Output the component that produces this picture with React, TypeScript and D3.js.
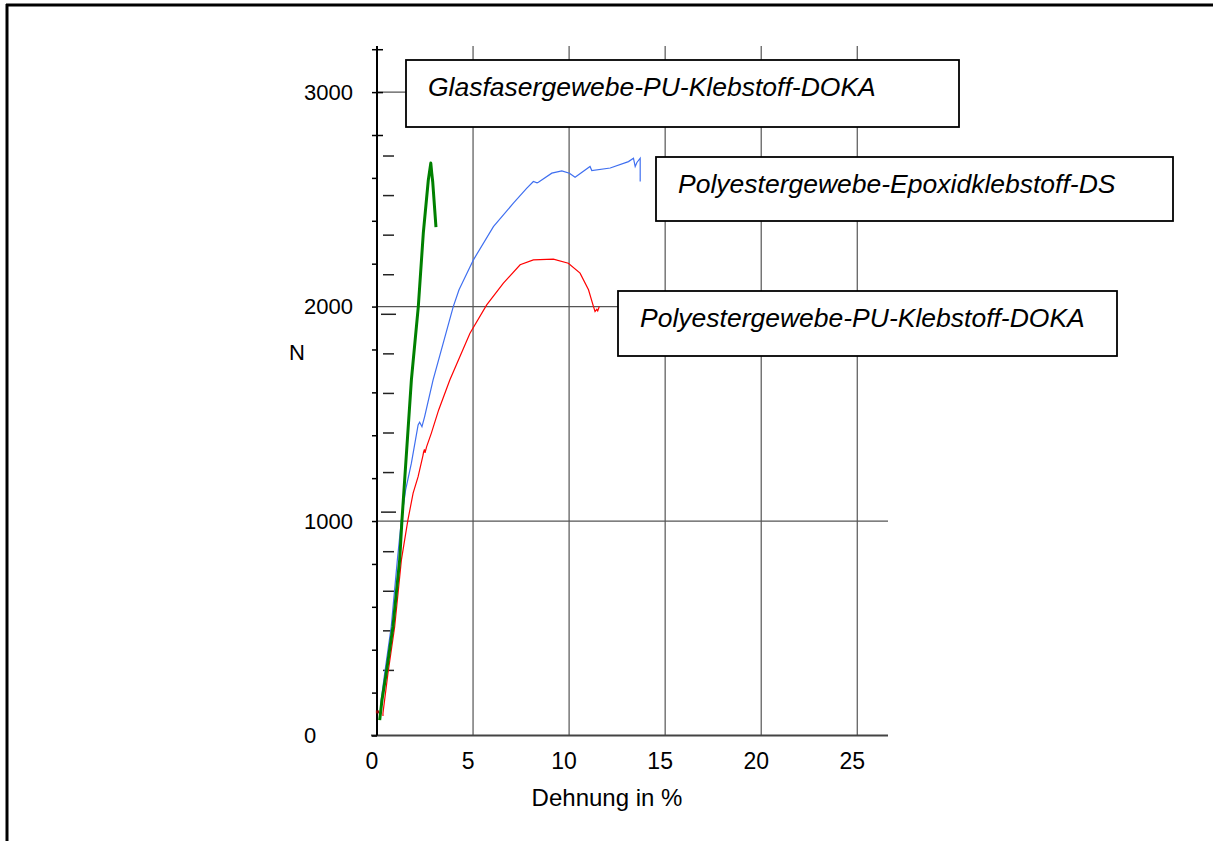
import React, { useRef, useEffect } from 'react'
import * as d3 from 'd3'

// Dehnung in % / Kraft in N
const glasPU: [number, number][] = [
  [0.14, 72], [0.26, 166], [0.48, 290], [0.83, 507], [1.18, 819], [1.3, 1005],
  [1.79, 1658], [2.15, 2000], [2.41, 2342], [2.67, 2589], [2.8, 2669],
  [2.85, 2622], [2.9, 2582], [3.07, 2370]
]

const polyEpoxid: [number, number][] = [
  [0.19, 134], [0.22, 166], [0.4, 290], [0.74, 507], [1.06, 819], [1.27, 1005],
  [1.49, 1145], [1.79, 1270], [2.14, 1448], [2.22, 1461], [2.34, 1440], [2.48, 1487],
  [2.92, 1658], [3.97, 2000], [4.27, 2078], [5.02, 2218], [6.06, 2373], [7.1, 2482],
  [7.8, 2552], [8.14, 2583], [8.33, 2577], [8.4, 2580], [9.1, 2622], [9.62, 2633],
  [10.02, 2622], [10.31, 2603], [11.09, 2653], [11.18, 2634], [12.14, 2646],
  [13.09, 2676], [13.35, 2692], [13.44, 2653], [13.53, 2672], [13.7, 2692], [13.7, 2583]
]

const polyPU: [number, number][] = [
  [0.31, 91], [0.31, 104], [0.57, 290], [0.92, 507], [1.27, 819], [1.61, 1005],
  [1.88, 1130], [2.14, 1207], [2.4, 1308], [2.42, 1320], [2.47, 1334], [2.5, 1318],
  [2.58, 1346], [2.83, 1410], [3.21, 1518], [3.79, 1658], [4.84, 1876], [5.71, 2008],
  [6.58, 2109], [7.45, 2195], [8.14, 2218], [9.18, 2221], [9.96, 2202], [10.57, 2156],
  [11.01, 2078], [11.27, 2000], [11.35, 1977], [11.44, 1987], [11.49, 1980], [11.57, 2000]
]

const startMark: [number, number][] = [[0.02, 110]]

const xTicks = [0, 5, 10, 15, 20, 25]
const xGrid = [5, 10, 15, 20, 25]
const yLabels = [0, 1000, 2000, 3000]
const yGrid = [1000, 2000, 3000]
const yTicks = [0, 200, 400, 600, 800, 1000, 1200, 1400, 1600, 1800, 2000, 2200, 2400, 2600, 2800, 3000, 3200]
// second (unlabelled) scale drawn next to the axis
const sideTicks = [1, 2, 3, 4, 5, 6, 7, 8, 9, 10, 11, 12, 13, 14]
const sideLong = [5, 10]

const seriesNames = [
  'Glasfasergewebe-PU-Klebstoff-DOKA',
  'Polyestergewebe-Epoxidklebstoff-DS',
  'Polyestergewebe-PU-Klebstoff-DOKA'
]

const font = '"Liberation Sans", Arial, sans-serif'

export default function App() {
  const ref = useRef<SVGSVGElement>(null)
  const layout = { width: 1213, height: 841, left: 377, right: 888, top: 46, bottom: 735.5 }

  useEffect(() => {
    const svg = d3.select(ref.current)
    svg.selectAll('*').remove()

    const x = d3.scaleLinear().domain([0, 26.6]).range([layout.left, layout.right])
    const y = d3.scaleLinear().domain([0, 3215]).range([layout.bottom, layout.top])
    const side = d3.scaleLinear().domain([0, 14]).range([y(119), y(2702)])

    // outer frame
    svg.append('line').attr('x1', 6).attr('x2', 1213).attr('y1', 5).attr('y2', 5)
      .attr('stroke', '#000').attr('stroke-width', 3)
    svg.append('line').attr('x1', 7).attr('x2', 7).attr('y1', 4).attr('y2', 841)
      .attr('stroke', '#000').attr('stroke-width', 3)

    // grid
    const grid = svg.append('g')
    grid.selectAll('.vgrid').data(xGrid).join('line')
      .attr('x1', d => x(d)).attr('x2', d => x(d))
      .attr('y1', layout.top).attr('y2', layout.bottom)
      .attr('stroke', '#555').attr('stroke-width', 1.2)
    grid.selectAll('.hgrid').data(yGrid).join('line')
      .attr('x1', layout.left).attr('x2', layout.right)
      .attr('y1', d => y(d)).attr('y2', d => y(d))
      .attr('stroke', '#555').attr('stroke-width', 1.2)

    // x axis
    svg.append('line').attr('x1', layout.left - 6).attr('x2', layout.right)
      .attr('y1', layout.bottom).attr('y2', layout.bottom)
      .attr('stroke', '#444').attr('stroke-width', 2)
    svg.append('g').selectAll('text').data(xTicks).join('text')
      .attr('x', d => x(d) - 5).attr('y', 769)
      .attr('text-anchor', 'middle').attr('font-family', font).attr('font-size', 23)
      .text(d => d)
    svg.append('text').attr('x', 607).attr('y', 806)
      .attr('text-anchor', 'middle').attr('font-family', font).attr('font-size', 24)
      .text('Dehnung in %')

    // y axis
    svg.append('line').attr('x1', layout.left).attr('x2', layout.left)
      .attr('y1', layout.top).attr('y2', layout.bottom)
      .attr('stroke', '#000').attr('stroke-width', 2)
    svg.append('g').attr('transform', `translate(${layout.left},0)`)
      .call(d3.axisLeft(y).tickValues(yTicks).tickSize(5).tickFormat(() => ''))
      .call(g => g.select('.domain').remove())
      .call(g => g.selectAll('line').attr('stroke', '#000').attr('stroke-width', 1.5))
    svg.append('g').attr('transform', `translate(${layout.left},0)`)
      .call(d3.axisRight(y).tickValues(yTicks.filter(d => d > 2600)).tickSize(6).tickFormat(() => ''))
      .call(g => g.select('.domain').remove())
      .call(g => g.selectAll('line').attr('stroke', '#000').attr('stroke-width', 1.5))
    svg.append('g').selectAll('text').data(yLabels).join('text')
      .attr('x', 304).attr('y', d => y(d)).attr('dy', '0.35em')
      .attr('font-family', font).attr('font-size', 22)
      .text(d => d)
    svg.append('text').attr('x', 297).attr('y', 352).attr('dy', '0.35em')
      .attr('text-anchor', 'middle').attr('font-family', font).attr('font-size', 22)
      .text('N')

    svg.append('g').selectAll('line').data(sideTicks).join('line')
      .attr('x1', d => sideLong.includes(d) ? 381 : 383)
      .attr('x2', d => sideLong.includes(d) ? 396 : 394)
      .attr('y1', d => side(d)).attr('y2', d => side(d))
      .attr('stroke', '#222').attr('stroke-width', 1.5)

    // curves
    const line = d3.line<[number, number]>().x(d => x(d[0])).y(d => y(d[1]))
    svg.append('path').datum(polyPU).attr('d', line)
      .attr('fill', 'none').attr('stroke', '#ff0000').attr('stroke-width', 1.2)
    svg.append('path').datum(polyEpoxid).attr('d', line)
      .attr('fill', 'none').attr('stroke', '#3f6ff0').attr('stroke-width', 1.2)
    svg.append('path').datum(glasPU).attr('d', line)
      .attr('fill', 'none').attr('stroke', '#008000').attr('stroke-width', 3)
      .attr('stroke-linejoin', 'round')
    svg.append('g').selectAll('rect').data(startMark).join('rect')
      .attr('x', d => x(d[0]) - 1.5).attr('y', d => y(d[1]) - 1.5)
      .attr('width', 3).attr('height', 3).attr('fill', '#8b0000')

    // series labels
    const boxes = [
      { x: 406, y: 60, w: 553, h: 67 },
      { x: 656, y: 157, w: 517, h: 64 },
      { x: 618, y: 291, w: 499, h: 65 }
    ]
    const lab = svg.append('g').selectAll('g').data(seriesNames).join('g')
      .attr('transform', (d, i) => `translate(${boxes[i].x},${boxes[i].y})`)
    lab.append('rect')
      .attr('width', (d, i) => boxes[i].w).attr('height', (d, i) => boxes[i].h)
      .attr('fill', '#fff').attr('stroke', '#000').attr('stroke-width', 1.8)
    lab.append('text')
      .attr('x', 22).attr('y', 36)
      .attr('font-family', font).attr('font-size', 26.5).attr('font-style', 'italic')
      .text(d => d)
  }, [])

  return (
    <svg ref={ref} width={layout.width} height={layout.height}
      style={{ position: 'absolute', left: 0, top: 0, display: 'block', background: '#fff' }} />
  )
}
